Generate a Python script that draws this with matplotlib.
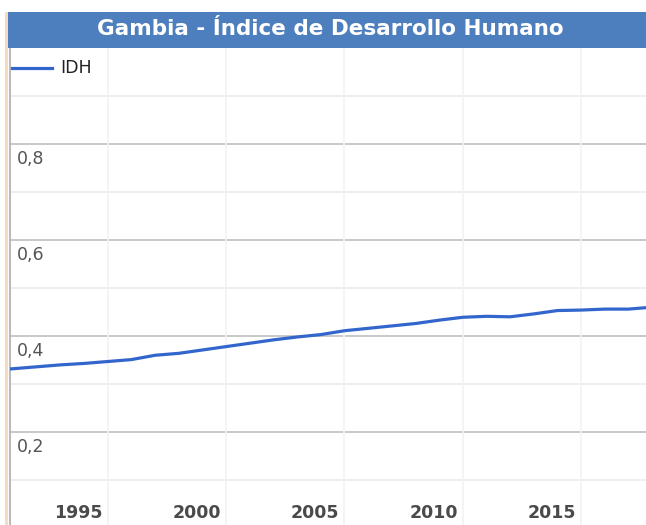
import matplotlib.pyplot as plt
from matplotlib.patches import Rectangle
from matplotlib.lines import Line2D

# Data.
years = list(range(1990, 2019))
idh = [0.329, 0.332, 0.336, 0.340, 0.343, 0.347, 0.351, 0.360, 0.364, 0.371,
       0.378, 0.385, 0.392, 0.398, 0.403, 0.411, 0.416, 0.421, 0.426, 0.433,
       0.439, 0.441, 0.440, 0.446, 0.453, 0.454, 0.456, 0.456, 0.460]
x_ticks = [1995, 2000, 2005, 2010, 2015]
y_ticks = [0.2, 0.4, 0.6, 0.8]
y_tick_labels = ["0,2", "0,4", "0,6", "0,8"]
y_minor = [0.1, 0.3, 0.5, 0.7, 0.9]

W, H = 646, 525
fig = plt.figure(figsize=(W / 100, H / 100), dpi=100)
fig.patch.set_facecolor("white")

# Plot area: from x=10 px to the right edge, y=48 px to the bottom.
ax = fig.add_axes([10 / W, 0, 1 - 10 / W, (H - 48) / H])
ax.set_xlim(1990.87, 2017.74)
ax.set_ylim(0.007, 0.999)

# Gridlines.
for v in y_minor:
    ax.axhline(v, color="#ebebeb", lw=1.2, zorder=1)
for v in y_ticks:
    ax.axhline(v, color="#c8c8c8", lw=1.4, zorder=1)
for x in x_ticks:
    ax.axvline(x, color="#f2f2f2", lw=1.2, zorder=1)

# The series.
ax.plot(years, idh, color="#3366cc", lw=2.3, zorder=3, solid_capstyle="round")

# Labels drawn inside the plot area.
for v, lab in zip(y_ticks, y_tick_labels):
    ax.annotate(lab, (0, v), xycoords=("axes fraction", "data"),
                xytext=(7, -6), textcoords="offset pixels",
                ha="left", va="top", fontsize=12.5, color="#555555",
                family="DejaVu Sans")
for x in x_ticks:
    ax.annotate(str(x), (x, 0), xycoords=("data", "axes fraction"),
                xytext=(-5, 3), textcoords="offset pixels",
                ha="right", va="bottom", fontsize=12.5, color="#4a4a4a",
                family="DejaVu Sans", fontweight="bold")

ax.set_xticks([])
ax.set_yticks([])
for side in ["top", "right", "bottom"]:
    ax.spines[side].set_visible(False)
ax.spines["left"].set_color("#bbbbbb")
ax.spines["left"].set_linewidth(1.5)

# Legend.
fig.add_artist(Line2D([12 / W, 52 / W], [1 - 68 / H, 1 - 68 / H],
                      color="#3366cc", lw=2.3))
fig.text(60 / W, 1 - 68 / H, "IDH", ha="left", va="center", fontsize=12.5,
         color="#222222", family="DejaVu Sans")

# Title bar and left border.
fig.add_artist(Rectangle((8 / W, 1 - 48 / H), 1 - 8 / W, 36 / H,
                         facecolor="#4d7ebd", edgecolor="none"))
fig.add_artist(Rectangle((5 / W, 0), 3 / W, 1 - 12 / H,
                         facecolor="#f6dcbf", edgecolor="none"))
fig.text(330 / W, 1 - 29 / H, "Gambia - Índice de Desarrollo Humano",
         ha="center", va="center", fontsize=15.5, color="white",
         fontweight="bold", family="DejaVu Sans")

fig.savefig("out.png", dpi=100)
